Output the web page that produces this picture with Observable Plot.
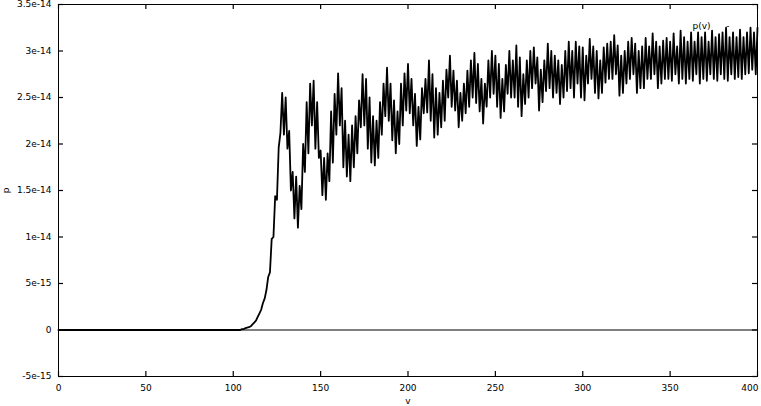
<!DOCTYPE html>
<html><head><meta charset="utf-8">
<script src="https://cdn.jsdelivr.net/npm/d3@7"></script>
<script src="https://cdn.jsdelivr.net/npm/@observablehq/plot@0.6"></script>
<style>body{margin:0;background:#fff} svg{display:block}</style>
</head><body><div id="chart"></div>
<script>
// flat lead-in: p(v) = 0 from v = 0
const leadV = [0];
const leadP = [0];
// p(v) in units of 1e-15, sampled at v = 104, 105, ..., 400
const vStart = 104;
const pE15 = [
  0, 0.1, 0.1, 0.2, 0.25, 0.3,
  0.4, 0.6, 0.8, 1.0, 1.4, 1.8, 2.2, 2.9, 3.4, 4.3,
  5.7, 6.2, 9.8, 10.0, 14.4, 14.0, 19.6, 21.2, 25.5, 21.0,
  25.0, 19.5, 21.4, 15.0, 17.0, 12.0, 16.5, 11.0, 15.5, 13.0,
  20.0, 17.0, 24.5, 19.0, 26.5, 22.0, 26.8, 19.5, 24.5, 18.5,
  19.3, 14.5, 18.5, 14.0, 19.0, 16.0, 23.5, 18.0, 25.4, 21.0,
  27.6, 22.0, 26.0, 17.5, 22.5, 16.5, 21.0, 16.0, 22.0, 17.5,
  23.0, 19.0, 24.7, 21.8, 27.5, 22.0, 27.0, 19.5, 25.0, 18.0,
  23.0, 17.7, 22.5, 18.5, 24.5, 21.0, 26.5, 23.0, 28.2, 22.5,
  26.5, 20.4, 24.7, 19.0, 23.5, 20.0, 26.5, 22.0, 27.6, 23.6,
  28.6, 23.3, 27.0, 22.0, 25.4, 19.8, 24.0, 20.5, 26.0, 23.3,
  27.0, 23.4, 29.0, 22.5, 27.5, 20.7, 26.0, 21.0, 25.5, 21.8,
  26.8, 22.5, 28.0, 25.0, 29.5, 24.0, 27.9, 23.6, 26.8, 21.8,
  25.5, 22.5, 26.5, 23.3, 27.9, 24.0, 29.0, 25.0, 29.8, 24.4,
  28.6, 23.5, 27.0, 22.2, 26.5, 24.0, 29.0, 25.0, 30.0, 25.4,
  29.5, 24.0, 28.6, 22.8, 27.0, 23.5, 28.5, 25.4, 30.0, 25.0,
  29.0, 25.0, 30.6, 24.0, 29.3, 23.0, 27.5, 24.3, 29.0, 25.0,
  30.0, 26.0, 30.4, 26.5, 29.3, 23.6, 28.0, 24.5, 29.0, 25.7,
  30.8, 26.0, 30.0, 25.0, 29.5, 25.5, 29.0, 24.3, 28.5, 25.0,
  30.0, 25.7, 31.0, 26.0, 30.0, 25.0, 31.0, 26.5, 30.5, 25.0,
  30.4, 24.7, 29.5, 26.5, 31.3, 27.0, 30.5, 25.5, 30.0, 24.9,
  29.0, 25.5, 30.4, 26.6, 30.8, 27.0, 31.0, 27.0, 31.7, 27.5,
  30.6, 25.2, 29.5, 25.5, 30.0, 26.5, 31.0, 27.0, 31.4, 27.5,
  30.8, 25.5, 30.0, 26.0, 30.5, 26.0, 31.4, 27.0, 30.5, 27.0,
  31.9, 27.5, 31.0, 26.0, 30.5, 26.5, 31.1, 27.0, 31.4, 27.0,
  31.0, 26.8, 31.9, 27.5, 30.5, 26.5, 32.2, 27.0, 31.5, 26.5,
  31.0, 27.0, 32.0, 26.8, 31.0, 27.5, 32.0, 26.5, 31.5, 27.0,
  32.0, 26.8, 31.0, 27.5, 32.2, 27.0, 31.5, 26.8, 31.8, 27.5,
  32.0, 27.0, 32.5, 26.8, 31.5, 27.5, 32.0, 27.0, 31.5, 27.2,
  32.3, 27.0, 31.5, 27.5, 32.0, 27.6, 32.5, 28.0, 32.0, 27.5,
  32.5
];
const xTicks = [0, 50, 100, 150, 200, 250, 300, 350, 400];
const xTickLabels = ["0", "50", "100", "150", "200", "250", "300", "350", "400"];
const yTicks = [-5e-15, 0, 5e-15, 1e-14, 1.5e-14, 2e-14, 2.5e-14, 3e-14, 3.5e-14];
const yTickLabels = ["-5e-15", "0", "5e-15", "1e-14", "1.5e-14", "2e-14", "2.5e-14", "3e-14", "3.5e-14"];
const seriesName = "p(v)";

const table = leadV.map((v, i) => ({v, p: leadP[i] * 1e-15}))
  .concat(pE15.map((p, i) => ({v: vStart + i, p: p * 1e-15})));

const W = 761, H = 406, mL = 58, mR = 4, mT = 4, mB = 30, tick = 5;
const innerW = W - mL - mR, innerH = H - mT - mB;
const font = "'DejaVu Sans', sans-serif";
const chart = Plot.plot({
  width: W, height: H,
  marginLeft: mL, marginRight: mR, marginTop: mT, marginBottom: mB,
  style: {fontFamily: font, fontSize: "9px", color: "#000", background: "#fff", overflow: "visible"},
  x: {domain: [0, 400]},
  y: {domain: [-5e-15, 3.5e-14]},
  marks: [
    Plot.ruleY([0], {stroke: "#000", strokeWidth: 1}),
    Plot.line(table, {x: "v", y: "p", stroke: "#000", strokeWidth: 1.8}),
    Plot.frame({stroke: "#000", strokeWidth: 1}),
    // inward tick marks on all four sides (mirrored, gnuplot style)
    Plot.tickY(yTicks, {y: d => d, stroke: "#000", strokeWidth: 1.2, insetRight: innerW - tick}),
    Plot.tickY(yTicks, {y: d => d, stroke: "#000", strokeWidth: 1.2, insetLeft: innerW - tick}),
    Plot.tickX(xTicks, {x: d => d, stroke: "#000", strokeWidth: 1.2, insetTop: innerH - tick}),
    Plot.tickX(xTicks, {x: d => d, stroke: "#000", strokeWidth: 1.2, insetBottom: innerH - tick}),
    // tick labels
    Plot.axisY(yTicks, {anchor: "left", tickSize: 0, tickPadding: 7,
      tickFormat: d => yTickLabels[yTicks.indexOf(d)],
      label: "p", labelAnchor: "center", labelOffset: 56, labelArrow: false}),
    Plot.axisX(xTicks.slice(0, -1), {anchor: "bottom", tickSize: 0, tickPadding: 8,
      tickFormat: d => xTickLabels[xTicks.indexOf(d)],
      label: "v", labelAnchor: "center", labelOffset: 27, labelArrow: false}),
    Plot.axisX(xTicks.slice(-1), {anchor: "bottom", tickSize: 0, tickPadding: 8, textAnchor: "end", dx: 1,
      tickFormat: d => xTickLabels[xTicks.indexOf(d)], label: null}),
    Plot.text([seriesName], {frameAnchor: "top-right", dx: -47, dy: 18, text: d => d, textAnchor: "end", fontSize: 9}),
    Plot.text(["-"], {frameAnchor: "top-right", dx: -28, dy: 18, text: d => d, fontSize: 9})
  ]
});
document.getElementById("chart").appendChild(chart);
</script>
</body></html>
